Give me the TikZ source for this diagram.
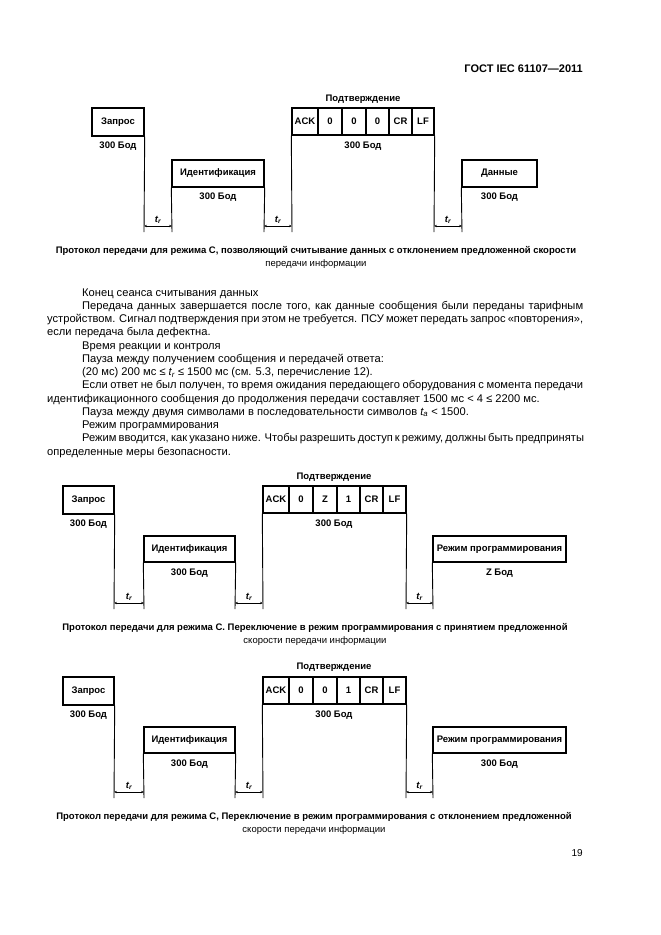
\documentclass[tikz,border=0pt]{standalone}
\usepackage{fontspec}
\setmainfont{Liberation Sans}
\usetikzlibrary{arrows.meta}
\newcommand{\dfont}{\fontsize{9.5}{11}\selectfont\bfseries}
\newcommand{\cfont}{\fontsize{9.5}{11}\selectfont}
\newcommand{\bfont}{\fontsize{11.15}{13.25}\selectfont}
\newcommand{\tsubr}{{\itshape t}\textsubscript{\itshape r}}
\newcommand{\tsuba}{{\itshape t}\textsubscript{\itshape a}}
\begin{document}
\begin{tikzpicture}[x=1pt,y=-1pt,
  bx/.style={draw, line width=1.4pt, inner sep=0pt, font=\dfont},
  lbl/.style={inner sep=0pt, font=\dfont},
  vl/.style={line width=0.9pt},
  dimline/.style={line width=0.6pt, {Stealth[length=3pt,width=2.4pt]}-{Stealth[length=3pt,width=2.4pt]}},
  tl/.style={midway, anchor=south, inner sep=2pt, font=\dfont},
  txt/.style={anchor=base west, inner sep=0pt, font=\bfont},
  captionb/.style={inner sep=0pt, font=\dfont},
  captionn/.style={inner sep=0pt, font=\cfont}]
\useasboundingbox[fill=white] (0,0) rectangle (661,935);

% header
\node[anchor=base east, inner sep=0pt, font=\fontsize{11}{13}\selectfont\bfseries] (hdr) at (583,72) {ГОСТ IEC 61107—2011};

% ---------------- diagram 1 ----------------
\node[lbl] (p1) at (363,99) {Подтверждение};
\node[bx, minimum width=52, minimum height=28] (zap1) at (118,122) {Запрос};
\node[lbl] (zb1) at (118,146) {300 Бод};
\node[bx, minimum width=26, minimum height=27] (c1a) at (305,121.5) {ACK};
\node[bx, minimum width=24, minimum height=27] (c1b) at (330,121.5) {0};
\node[bx, minimum width=24, minimum height=27] (c1c) at (354,121.5) {0};
\node[bx, minimum width=23, minimum height=27] (c1d) at (377.5,121.5) {0};
\node[bx, minimum width=23, minimum height=27] (c1e) at (400.5,121.5) {CR};
\node[bx, minimum width=22, minimum height=27] (c1f) at (423,121.5) {LF};
\node[lbl] (cb1) at (363,146) {300 Бод};
\node[bx, minimum width=92, minimum height=27] (id1) at (218,173.5) {Идентификация};
\node[lbl] (ib1) at (218,197) {300 Бод};
\node[bx, minimum width=75, minimum height=27] (dat1) at (499.5,173.5) {Данные};
\node[lbl] (db1) at (499.5,197) {300 Бод};
\coordinate (v1a) at (144,232);
\coordinate (v1b) at (172,232);
\coordinate (v1c) at (264,232);
\coordinate (v1d) at (292,232);
\coordinate (v1e) at (434,232);
\coordinate (v1f) at (462,232);
\draw[vl] (zap1.south east) -- (v1a);
\draw[vl] (id1.south west) -- (v1b);
\draw[vl] (id1.south east) -- (v1c);
\draw[vl] (c1a.south west) -- (v1d);
\draw[vl] (c1f.south east) -- (v1e);
\draw[vl] (dat1.south west) -- (v1f);
\draw[dimline] ([yshift=6]v1a) -- node[tl]{\tsubr} ([yshift=6]v1b);
\draw[dimline] ([yshift=6]v1c) -- node[tl]{\tsubr} ([yshift=6]v1d);
\draw[dimline] ([yshift=6]v1e) -- node[tl]{\tsubr} ([yshift=6]v1f);
\node[captionb] (cap1a) at (316,251) {Протокол передачи для режима С, позволяющий считывание данных с отклонением предложенной скорости};
\node[captionn] (cap1b) at (316,264) {передачи информации};

% ---------------- body text ----------------
\node[txt] (l1) at (82,296) {Конец сеанса считывания данных};
\node[txt] (l2) at (82,309.25) {\makebox[501pt][s]{Передача данных завершается после того, как данные сообщения были переданы тарифным}};
\node[txt] (l3) at (47,322.5) {\makebox[536pt][s]{устройством. Сигнал подтверждения при этом не требуется. ПСУ может передать запрос «повторения»,}};
\node[txt] (l4) at (47,335.75) {если передача была дефектна.};
\node[txt] (l5) at (82,349) {Время реакции и контроля};
\node[txt] (l6) at (82,362.25) {Пауза между получением сообщения и передачей ответа:};
\node[txt] (l7) at (82,375.5) {(20 мс) 200 мс ≤ \tsubr{} ≤ 1500 мс (см. 5.3, перечисление 12).};
\node[txt] (l8) at (82,388.75) {\makebox[501pt][s]{Если ответ не был получен, то время ожидания передающего оборудования с момента передачи}};
\node[txt] (l9) at (47,402) {идентификационного сообщения до продолжения передачи составляет 1500 мс < 4 ≤ 2200 мс.};
\node[txt] (l10) at (82,415.25) {Пауза между двумя символами в последовательности символов \tsuba{} < 1500.};
\node[txt] (l11) at (82,428.5) {Режим программирования};
\node[txt] (l12) at (82,441.75) {\makebox[501pt][s]{Режим вводится, как указано ниже. Чтобы разрешить доступ к режиму, должны быть предприняты}};
\node[txt] (l13) at (47,455) {определенные меры безопасности.};

% ---------------- diagram 2 ----------------
\node[lbl] (p2) at (334,477) {Подтверждение};
\node[bx, minimum width=51, minimum height=28] (zap2) at (88.5,500) {Запрос};
\node[lbl] (zb2) at (88.5,524) {300 Бод};
\node[bx, minimum width=26, minimum height=27] (c2a) at (276,499.5) {ACK};
\node[bx, minimum width=24, minimum height=27] (c2b) at (301,499.5) {0};
\node[bx, minimum width=24, minimum height=27] (c2c) at (325,499.5) {Z};
\node[bx, minimum width=23, minimum height=27] (c2d) at (348.5,499.5) {1};
\node[bx, minimum width=23, minimum height=27] (c2e) at (371.5,499.5) {CR};
\node[bx, minimum width=23, minimum height=27] (c2f) at (394.5,499.5) {LF};
\node[lbl] (cb2) at (334,524) {300 Бод};
\node[bx, minimum width=91, minimum height=26] (id2) at (189.5,549) {Идентификация};
\node[lbl] (ib2) at (189.5,573) {300 Бод};
\node[bx, minimum width=133, minimum height=26] (rp2) at (499.5,549) {Режим программирования};
\node[lbl] (rb2) at (499.5,573) {Z Бод};
\coordinate (v2a) at (114,609);
\coordinate (v2b) at (144,609);
\coordinate (v2c) at (235,609);
\coordinate (v2d) at (263,609);
\coordinate (v2e) at (406,609);
\coordinate (v2f) at (433,609);
\draw[vl] (zap2.south east) -- (v2a);
\draw[vl] (id2.south west) -- (v2b);
\draw[vl] (id2.south east) -- (v2c);
\draw[vl] (c2a.south west) -- (v2d);
\draw[vl] (c2f.south east) -- (v2e);
\draw[vl] (rp2.south west) -- (v2f);
\draw[dimline] ([yshift=6]v2a) -- node[tl]{\tsubr} ([yshift=6]v2b);
\draw[dimline] ([yshift=6]v2c) -- node[tl]{\tsubr} ([yshift=6]v2d);
\draw[dimline] ([yshift=6]v2e) -- node[tl]{\tsubr} ([yshift=6]v2f);
\node[captionb] (cap2a) at (315,628) {Протокол передачи для режима С. Переключение в режим программирования с принятием предложенной};
\node[captionn] (cap2b) at (315,641) {скорости передачи информации};

% ---------------- diagram 3 ----------------
\node[lbl] (p3) at (334,667) {Подтверждение};
\node[bx, minimum width=51, minimum height=28] (zap3) at (88.5,691) {Запрос};
\node[lbl] (zb3) at (88.5,715) {300 Бод};
\node[bx, minimum width=26, minimum height=27] (c3a) at (276,690.5) {ACK};
\node[bx, minimum width=24, minimum height=27] (c3b) at (301,690.5) {0};
\node[bx, minimum width=24, minimum height=27] (c3c) at (325,690.5) {0};
\node[bx, minimum width=23, minimum height=27] (c3d) at (348.5,690.5) {1};
\node[bx, minimum width=23, minimum height=27] (c3e) at (371.5,690.5) {CR};
\node[bx, minimum width=23, minimum height=27] (c3f) at (394.5,690.5) {LF};
\node[lbl] (cb3) at (334,715) {300 Бод};
\node[bx, minimum width=91, minimum height=26] (id3) at (189.5,740) {Идентификация};
\node[lbl] (ib3) at (189.5,764) {300 Бод};
\node[bx, minimum width=133, minimum height=26] (rp3) at (499.5,740) {Режим программирования};
\node[lbl] (rb3) at (499.5,764) {300 Бод};
\coordinate (v3a) at (114,798);
\coordinate (v3b) at (144,798);
\coordinate (v3c) at (235,798);
\coordinate (v3d) at (263,798);
\coordinate (v3e) at (406,798);
\coordinate (v3f) at (433,798);
\draw[vl] (zap3.south east) -- (v3a);
\draw[vl] (id3.south west) -- (v3b);
\draw[vl] (id3.south east) -- (v3c);
\draw[vl] (c3a.south west) -- (v3d);
\draw[vl] (c3f.south east) -- (v3e);
\draw[vl] (rp3.south west) -- (v3f);
\draw[dimline] ([yshift=6]v3a) -- node[tl]{\tsubr} ([yshift=6]v3b);
\draw[dimline] ([yshift=6]v3c) -- node[tl]{\tsubr} ([yshift=6]v3d);
\draw[dimline] ([yshift=6]v3e) -- node[tl]{\tsubr} ([yshift=6]v3f);
\node[captionb] (cap3a) at (314,817) {Протокол передачи для режима С, Переключение в режим программирования с отклонением предложенной};
\node[captionn] (cap3b) at (314,830) {скорости передачи информации};

% page number
\node[anchor=base east, inner sep=0pt, font=\fontsize{10}{12}\selectfont] (pg) at (583,856) {19};
\end{tikzpicture}
\end{document}
